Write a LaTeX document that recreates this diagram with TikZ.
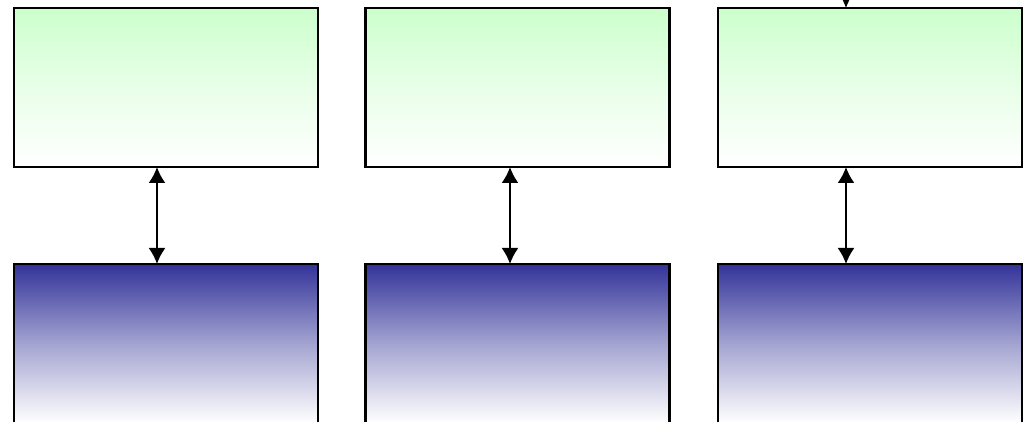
\documentclass[tikz,border=0pt]{standalone}
\usetikzlibrary{arrows.meta}
\definecolor{boxgreen}{RGB}{204,255,204}
\definecolor{boxnavy}{RGB}{51,51,153}
\tikzset{
  unitbox/.style={draw=black, line width=2.5pt, minimum width=304pt, minimum height=159pt,
    inner sep=0pt, outer sep=0pt},
  upperbox/.style={unitbox, top color=boxgreen, bottom color=white, middle color=boxgreen!45!white},
  lowerbox/.style={unitbox, top color=boxnavy, bottom color=white, middle color=boxnavy!45!white},
  link/.style={line width=2pt, {Latex[length=16pt,width=17pt]}-{Latex[length=16pt,width=17pt]}},
}
\begin{document}
\begin{tikzpicture}[x=1pt, y=-1pt]
\useasboundingbox (0,0) rectangle (1029,422);
\node[upperbox] (t1) at (166,87.5) {};
\node[upperbox] (t2) at (517.5,87.5) {};
\node[upperbox] (t3) at (870,87.5) {};
\node[lowerbox] (b1) at (166,343.5) {};
\node[lowerbox] (b2) at (517.5,343.5) {};
\node[lowerbox] (b3) at (870,343.5) {};
\coordinate (in3) at ([xshift=-24pt, yshift=30pt]t3.north);
\path [link]
    ([xshift=-9pt]t1.south) edge ([xshift=-9pt]b1.north)
    ([xshift=-7.5pt]t2.south) edge ([xshift=-7.5pt]b2.north)
    ([xshift=-24pt]t3.south) edge ([xshift=-24pt]b3.north);
\draw [line width=2pt, -{Latex[length=16pt,width=17pt]}] (in3) -- ([xshift=-24pt]t3.north);
\end{tikzpicture}
\end{document}
